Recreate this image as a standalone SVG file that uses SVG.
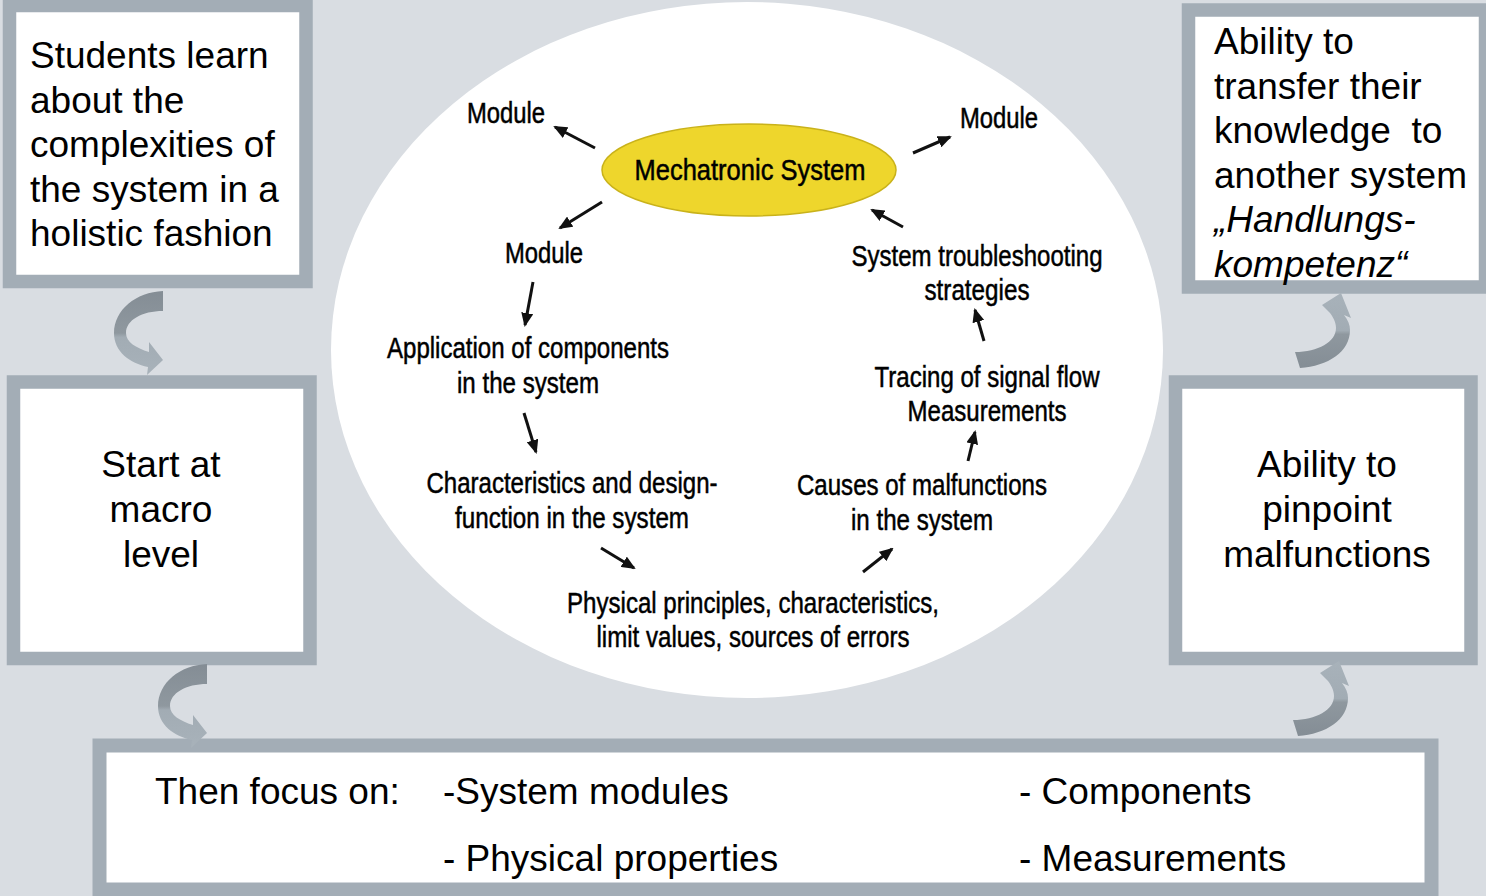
<svg xmlns="http://www.w3.org/2000/svg" width="1486" height="896" viewBox="0 0 1486 896">
<defs>
<style>
.box{fill:#ffffff;stroke:#a3adb6;stroke-width:13.5}
.bt{font-family:"Liberation Sans",Arial,sans-serif;font-size:37px;fill:#000}
.it{font-style:italic}
.et{font-family:"Liberation Sans",Arial,sans-serif;font-size:29px;fill:#000;stroke:#000;stroke-width:0.5;text-anchor:middle}
.ar{stroke:#111;stroke-width:3;fill:none;marker-end:url(#ah)}
</style>
<marker id="ah" viewBox="0 0 14 12" refX="12" refY="6" markerWidth="14" markerHeight="12" markerUnits="userSpaceOnUse" orient="auto">
<path d="M0,0 L14,6 L0,12 Z" fill="#111"/>
</marker>
<linearGradient id="gd" x1="0" y1="0" x2="0" y2="1">
<stop offset="0" stop-color="#848d95"/>
<stop offset="0.5" stop-color="#8f989f"/>
<stop offset="0.55" stop-color="#a2acb4"/>
<stop offset="1" stop-color="#a8b2ba"/>
</linearGradient>
<linearGradient id="gu" x1="0" y1="1" x2="0" y2="0">
<stop offset="0" stop-color="#848d95"/>
<stop offset="0.45" stop-color="#8f989f"/>
<stop offset="0.5" stop-color="#a2acb4"/>
<stop offset="1" stop-color="#a8b2ba"/>
</linearGradient>
</defs>
<rect x="0" y="0" width="1486" height="896" fill="#d9dde2"/>

<g id="center-ellipse">
<ellipse cx="747" cy="350" rx="416" ry="348" fill="#ffffff"/>
</g>

<g id="box-students">
<rect class="box" x="9.5" y="5.5" width="296.5" height="276"/>
<text class="bt" x="30" y="68">Students learn</text>
<text class="bt" x="30" y="113">about the</text>
<text class="bt" x="30" y="157">complexities of</text>
<text class="bt" x="30" y="202">the system in a</text>
<text class="bt" x="30" y="246">holistic fashion</text>
</g>

<g id="box-start">
<rect class="box" x="13.5" y="382" width="296.5" height="276.5"/>
<text class="bt" x="161" y="477" text-anchor="middle">Start at</text>
<text class="bt" x="161" y="522" text-anchor="middle">macro</text>
<text class="bt" x="161" y="567" text-anchor="middle">level</text>
</g>

<g id="box-transfer">
<rect class="box" x="1188.5" y="10" width="297" height="277"/>
<text class="bt" x="1214" y="54">Ability to</text>
<text class="bt" x="1214" y="99">transfer their</text>
<text class="bt" x="1214" y="143" xml:space="preserve">knowledge  to</text>
<text class="bt" x="1214" y="188">another system</text>
<text class="bt it" x="1214" y="232">„Handlungs-</text>
<text class="bt it" x="1214" y="277">kompetenz“</text>
</g>

<g id="box-pinpoint">
<rect class="box" x="1175.5" y="382" width="295.5" height="276.5"/>
<text class="bt" x="1327" y="477" text-anchor="middle">Ability to</text>
<text class="bt" x="1327" y="522" text-anchor="middle">pinpoint</text>
<text class="bt" x="1327" y="567" text-anchor="middle">malfunctions</text>
</g>

<g id="box-focus">
<rect class="box" x="99.5" y="745.5" width="1332" height="144" style="stroke-width:14"/>
<text class="bt" x="155" y="804">Then focus on:</text>
<text class="bt" x="443" y="804">-System modules</text>
<text class="bt" x="1019" y="804">- Components</text>
<text class="bt" x="443" y="871">- Physical properties</text>
<text class="bt" x="1019" y="871">- Measurements</text>
</g>

<g id="mechatronic-system">
<ellipse cx="749" cy="170" rx="147" ry="46" fill="#eed62c" stroke="#c9b21a" stroke-width="1.5"/>
<text class="et" x="750" y="180" textLength="231" lengthAdjust="spacingAndGlyphs">Mechatronic System</text>
</g>

<g id="module-tl"><text class="et" x="506" y="123" textLength="78" lengthAdjust="spacingAndGlyphs">Module</text></g>
<g id="module-tr"><text class="et" x="999" y="128" textLength="78" lengthAdjust="spacingAndGlyphs">Module</text></g>
<g id="module-m"><text class="et" x="544" y="263" textLength="78" lengthAdjust="spacingAndGlyphs">Module</text></g>
<g id="troubleshooting">
<text class="et" x="977" y="266" textLength="251" lengthAdjust="spacingAndGlyphs">System troubleshooting</text>
<text class="et" x="977" y="300" textLength="105" lengthAdjust="spacingAndGlyphs">strategies</text>
</g>
<g id="application">
<text class="et" x="528" y="358" textLength="282" lengthAdjust="spacingAndGlyphs">Application of components</text>
<text class="et" x="528" y="393" textLength="142" lengthAdjust="spacingAndGlyphs">in the system</text>
</g>
<g id="tracing">
<text class="et" x="987" y="387" textLength="225" lengthAdjust="spacingAndGlyphs">Tracing of signal flow</text>
<text class="et" x="987" y="421" textLength="159" lengthAdjust="spacingAndGlyphs">Measurements</text>
</g>
<g id="characteristics">
<text class="et" x="572" y="493" textLength="291" lengthAdjust="spacingAndGlyphs">Characteristics and design-</text>
<text class="et" x="572" y="528" textLength="234" lengthAdjust="spacingAndGlyphs">function in the system</text>
</g>
<g id="causes">
<text class="et" x="922" y="495" textLength="250" lengthAdjust="spacingAndGlyphs">Causes of malfunctions</text>
<text class="et" x="922" y="530" textLength="142" lengthAdjust="spacingAndGlyphs">in the system</text>
</g>
<g id="physical">
<text class="et" x="753" y="613" textLength="372" lengthAdjust="spacingAndGlyphs">Physical principles, characteristics,</text>
<text class="et" x="753" y="647" textLength="313" lengthAdjust="spacingAndGlyphs">limit values, sources of errors</text>
</g>

<g id="connectors">
<line class="ar" x1="595" y1="148" x2="555" y2="127"/>
<line class="ar" x1="913" y1="153" x2="950" y2="137"/>
<line class="ar" x1="602" y1="202" x2="560" y2="228"/>
<line class="ar" x1="903" y1="227" x2="872" y2="210"/>
<line class="ar" x1="533" y1="282" x2="525" y2="325"/>
<line class="ar" x1="984" y1="341" x2="975" y2="310"/>
<line class="ar" x1="524" y1="413" x2="536" y2="452"/>
<line class="ar" x1="968" y1="461" x2="975" y2="432"/>
<line class="ar" x1="601" y1="548" x2="634" y2="568"/>
<line class="ar" x1="863" y1="572" x2="892" y2="549"/>
<path id="curve-l1" fill="url(#gd)" d="M163,291 C136,292 114,310 114,333 C114,352 130,363 148,367 L147,375 L163,360 L149,342 L149,352 C136,348 126,342 126,333 C126,320 142,311 163,311 Z"/>
<path id="curve-l2" fill="url(#gd)" transform="translate(44,373)" d="M163,291 C136,292 114,310 114,333 C114,352 130,363 148,367 L147,375 L163,360 L149,342 L149,352 C136,348 126,342 126,333 C126,320 142,311 163,311 Z"/>
<path id="curve-r1" fill="url(#gu)" d="M1295,352 C1318,352 1336,342 1336,328 C1336,322 1333,317 1330,313 L1322,305 L1341,293 L1351,318 L1344,315 C1348,320 1350,325 1350,330 C1350,352 1328,366 1300,368 Z"/>
<path id="curve-r2" fill="url(#gu)" transform="translate(-2,368)" d="M1295,352 C1318,352 1336,342 1336,328 C1336,322 1333,317 1330,313 L1322,305 L1341,293 L1351,318 L1344,315 C1348,320 1350,325 1350,330 C1350,352 1328,366 1300,368 Z"/>
</g>
</svg>
